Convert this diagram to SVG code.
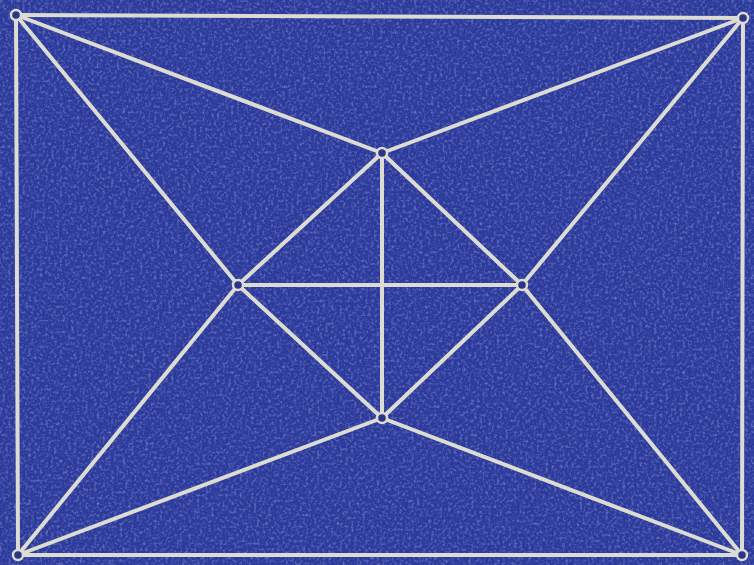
<svg xmlns="http://www.w3.org/2000/svg" width="754" height="565" viewBox="0 0 754 565">
<defs>
<filter id="leather" x="0" y="0" width="100%" height="100%">
<feTurbulence type="fractalNoise" baseFrequency="0.35" numOctaves="3" seed="4" result="n"/>
<feColorMatrix type="matrix" values="0 0 0 0 0.75  0 0 0 0 0.8  0 0 0 0 1  0 0 0 -2.2 1.2" in="n"/>
</filter>
<style>
.bg{fill:#2c3a9c}
.e{stroke:#dcdcd2;stroke-width:4;stroke-linecap:round;fill:none}
.n{fill:#2a3488;stroke:#dcdcd2;stroke-width:2.5}
</style>
</defs>
<rect class="bg" x="0" y="0" width="754" height="565"/>
<rect x="0" y="0" width="754" height="565" filter="url(#leather)" opacity="0.35"/>
<g id="connectors">
<line class="e" x1="16" y1="15" x2="743" y2="18"/>
<line class="e" x1="16" y1="15" x2="18" y2="555"/>
<line class="e" x1="743" y1="18" x2="742" y2="555"/>
<line class="e" x1="18" y1="555" x2="742" y2="555"/>
<line class="e" x1="16" y1="15" x2="382" y2="153"/>
<line class="e" x1="743" y1="18" x2="382" y2="153"/>
<line class="e" x1="16" y1="15" x2="238" y2="285"/>
<line class="e" x1="18" y1="555" x2="238" y2="285"/>
<line class="e" x1="743" y1="18" x2="522" y2="285"/>
<line class="e" x1="742" y1="555" x2="522" y2="285"/>
<line class="e" x1="18" y1="555" x2="382" y2="418"/>
<line class="e" x1="742" y1="555" x2="382" y2="418"/>
<line class="e" x1="382" y1="153" x2="238" y2="285"/>
<line class="e" x1="382" y1="153" x2="522" y2="285"/>
<line class="e" x1="238" y1="285" x2="382" y2="418"/>
<line class="e" x1="522" y1="285" x2="382" y2="418"/>
<line class="e" x1="382" y1="153" x2="382" y2="418"/>
<line class="e" x1="238" y1="285" x2="522" y2="285"/>
</g>
<g id="n-tl"><circle class="n" cx="16" cy="15" r="5"/></g>
<g id="n-tr"><circle class="n" cx="743" cy="18" r="5"/></g>
<g id="n-bl"><circle class="n" cx="18" cy="555" r="5"/></g>
<g id="n-br"><circle class="n" cx="742" cy="555" r="5"/></g>
<g id="n-top"><circle class="n" cx="382" cy="153" r="5"/></g>
<g id="n-left"><circle class="n" cx="238" cy="285" r="5"/></g>
<g id="n-right"><circle class="n" cx="522" cy="285" r="5"/></g>
<g id="n-bottom"><circle class="n" cx="382" cy="418" r="5"/></g>
</svg>
